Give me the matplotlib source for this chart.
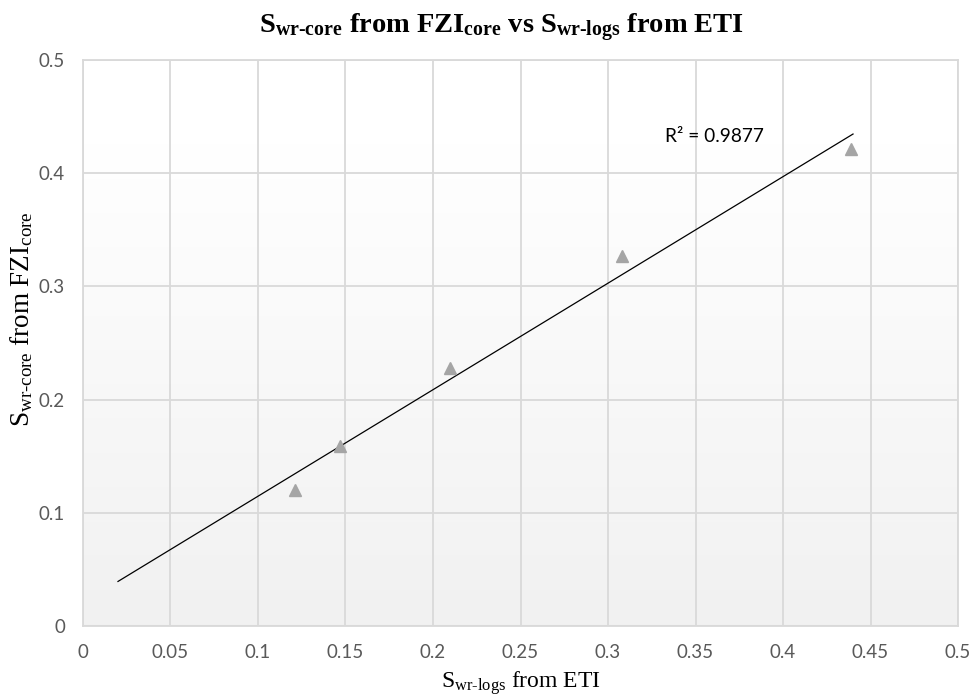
import matplotlib.pyplot as plt
import numpy as np

plt.rcParams['mathtext.fontset'] = 'custom'
plt.rcParams['mathtext.rm'] = 'Liberation Serif'
plt.rcParams['mathtext.it'] = 'Liberation Serif:italic'
plt.rcParams['mathtext.bf'] = 'Liberation Serif:bold'

# data
swr_logs = [0.121, 0.147, 0.2095, 0.308, 0.439]
swr_core = [0.120, 0.159, 0.228, 0.327, 0.421]
trend_x = [0.02, 0.44]
r2_text = 'R² = 0.9877'
xticks = [0, 0.05, 0.1, 0.15, 0.2, 0.25, 0.3, 0.35, 0.4, 0.45, 0.5]
yticks = [0, 0.1, 0.2, 0.3, 0.4, 0.5]

fig = plt.figure(figsize=(9.74, 7), dpi=100)
ax = fig.add_axes([0.0852, 0.1057, 0.8984, 0.8086])

# gradient plot area: white at top, light grey at bottom
grad = np.linspace(0, 1, 256).reshape(-1, 1)
grad = np.clip((grad - 0.15) / 0.85, 0, 1)
cols = 1.0 - 0.055 * grad
img = np.dstack([cols, cols, cols])
ax.imshow(img, extent=[0, 0.5, 0, 0.5], aspect='auto', zorder=0)
ax.set_xlim(0, 0.5)
ax.set_ylim(0, 0.5)

ax.set_xticks(xticks)
ax.set_yticks(yticks)
ax.set_xticklabels([f'{v:g}' for v in xticks])
ax.set_yticklabels([f'{v:g}' for v in yticks])
ax.grid(True, color='#d9d9d9', linewidth=1.3, zorder=1)
ax.set_axisbelow(True)
for s in ax.spines.values():
    s.set_color('#d9d9d9')
    s.set_linewidth(1.3)
ax.tick_params(length=0, pad=13, labelsize=13.5, labelcolor='#595959')
for lab in ax.get_xticklabels() + ax.get_yticklabels():
    lab.set_fontfamily('Lato')

# linear trendline
k, b = np.polyfit(swr_logs, swr_core, 1)
tx = np.array(trend_x)
ax.plot(tx, k * tx + b, color='black', linewidth=0.9, zorder=3)
ax.plot(swr_logs, swr_core, linestyle='none', marker='^', markersize=9,
        color='#a5a5a5', zorder=4)
ax.text(0.3326, 0.432, r2_text, fontsize=13.8, family='Lato', va='center', ha='left')

fig.text(0.515, 0.96,
         r'$\mathbf{S}_{\mathbf{wr}\text{-}\mathbf{core}}$' + r'$\mathbf{\ from\ FZI}_{\mathbf{core}}$'
         + r'$\mathbf{\ vs\ S}_{\mathbf{wr}\text{-}\mathbf{logs}}$' + r'$\mathbf{\ from\ ETI}$',
         fontsize=20.5, ha='center', va='center')
ax.set_xlabel(r'$\mathrm{S}_{\mathrm{wr}\text{-}\mathrm{logs}}\mathrm{\ from\ ETI}$', fontsize=17, labelpad=6)
ax.set_ylabel(r'$\mathrm{S}_{\mathrm{wr}\text{-}\mathrm{core}}\mathrm{\ from\ FZI}_{\mathrm{core}}$', fontsize=19.5)
ax.yaxis.set_label_coords(-0.055, 0.542)

fig.savefig('out.png', dpi=100)
